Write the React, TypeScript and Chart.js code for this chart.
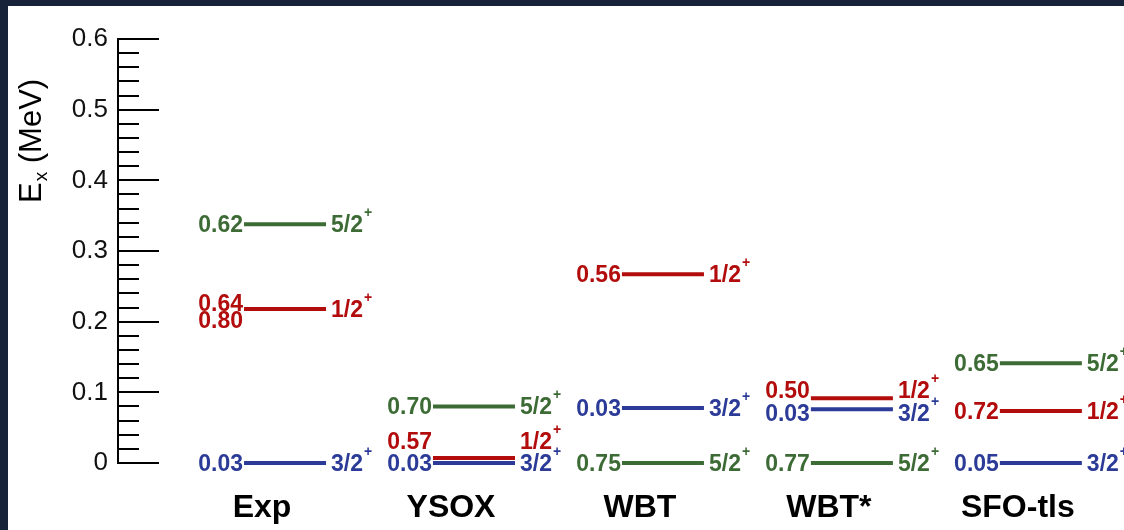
import React, { useEffect, useRef } from "react";
import { Chart, registerables } from "chart.js";

Chart.register(...registerables);

// ---- data ----
const categories = ["Exp", "YSOX", "WBT", "WBT*", "SFO-tls"];

// level energies (MeV) per category
const energies32 = [0.0, 0.0, 0.078, 0.076, 0.0];
const energies12 = [0.218, 0.007, 0.267, 0.0915, 0.0735];
const energies52 = [0.338, 0.08, 0.0, 0.0, 0.141];

// numbers printed left of each level
const values32 = [["0.03"], ["0.03"], ["0.03"], ["0.03"], ["0.05"]];
const values12 = [["0.64", "0.80"], ["0.57"], ["0.56"], ["0.50"], ["0.72"]];
const values52 = [["0.62"], ["0.70"], ["0.75"], ["0.77"], ["0.65"]];

const spinLabels = ["3/2", "1/2", "5/2"];

const yTickMin = 0;
const yTickMax = 0.6;
const yMinorStep = 0.02;

// ---- styles / label placement (px) ----
const COLORS = ["#2b3b97", "#b20c0c", "#3d6b35"];
const shift32 = [[0], [0], [0], [4], [0]];
const shift12 = [[-6, 11], [-17], [0], [-8], [0]];
const shift52 = [[0], [0], [0], [0], [0]];
const spinShift32 = [0, 0, 0, 4, 0];
const spinShift12 = [0, -17, 0, -8, 0];
const spinShift52 = [0, 0, 0, 0, 0];

const HALF = 0.217;
const FONT = "'Liberation Sans', Arial, sans-serif";

const series = [
  { energies: energies32, values: values32, shift: shift32, spinShift: spinShift32, spin: spinLabels[0], color: COLORS[0] },
  { energies: energies12, values: values12, shift: shift12, spinShift: spinShift12, spin: spinLabels[1], color: COLORS[1] },
  { energies: energies52, values: values52, shift: shift52, spinShift: spinShift52, spin: spinLabels[2], color: COLORS[2] },
];

const levelPlugin = {
  id: "levelPlugin",
  afterDatasetsDraw(chart: any) {
    const ctx = chart.ctx;
    const xs = chart.scales.x;
    const ys = chart.scales.y;
    ctx.save();

    // axis line and inward ticks
    const ax = ys.right;
    ctx.strokeStyle = "#000";
    ctx.lineWidth = 2;
    ctx.beginPath();
    ctx.moveTo(ax, ys.getPixelForValue(yTickMax) - 1);
    ctx.lineTo(ax, ys.getPixelForValue(yTickMin) + 1);
    ctx.stroke();
    const n = Math.round((yTickMax - yTickMin) / yMinorStep);
    for (let k = 0; k <= n; k++) {
      const v = yTickMin + k * yMinorStep;
      const major = k % 5 === 0;
      const py = Math.round(ys.getPixelForValue(v));
      ctx.beginPath();
      ctx.moveTo(ax, py);
      ctx.lineTo(ax + (major ? 41 : 21), py);
      ctx.stroke();
    }

    // y-axis title
    ctx.save();
    ctx.translate(33, 197);
    ctx.rotate(-Math.PI / 2);
    ctx.fillStyle = "#000";
    ctx.textBaseline = "alphabetic";
    ctx.textAlign = "left";
    ctx.font = `31px ${FONT}`;
    ctx.fillText("E", 0, 0);
    let w = ctx.measureText("E").width;
    ctx.font = `19px ${FONT}`;
    ctx.fillText("x", w + 1, 6);
    w += ctx.measureText("x").width + 1;
    ctx.font = `31px ${FONT}`;
    ctx.fillText(" (MeV)", w, 0);
    ctx.restore();

    // level labels
    series.forEach((s) => {
      s.energies.forEach((e, i) => {
        const y = ys.getPixelForValue(e);
        const x0 = xs.getPixelForValue(i - HALF);
        const x1 = xs.getPixelForValue(i + HALF);
        ctx.fillStyle = s.color;
        ctx.textBaseline = "alphabetic";
        ctx.font = `bold 23px ${FONT}`;
        ctx.textAlign = "right";
        s.values[i].forEach((txt, j) => {
          ctx.fillText(txt, x0 - 1, y + s.shift[i][j] + 8);
        });
        ctx.textAlign = "left";
        const sy = y + s.spinShift[i];
        ctx.fillText(s.spin, x1 + 5, sy + 8);
        const sw = ctx.measureText(s.spin).width;
        ctx.font = `bold 14px ${FONT}`;
        ctx.fillText("+", x1 + 5 + sw + 1, sy - 7);
      });
    });

    // category labels
    ctx.fillStyle = "#000";
    ctx.font = `bold 32px ${FONT}`;
    ctx.textAlign = "center";
    ctx.textBaseline = "alphabetic";
    categories.forEach((c, i) => {
      ctx.fillText(c, xs.getPixelForValue(i) - 23, 511);
    });

    ctx.restore();
  },
};

export default function App() {
  const ref = useRef<HTMLCanvasElement>(null);
  useEffect(() => {
    document.body.style.margin = "6px 0 0 8px";
    document.body.style.background = "#172339";
    document.body.style.overflow = "hidden";
    const datasets: any[] = [];
    series.forEach((s) => {
      s.energies.forEach((e, i) => {
        datasets.push({
          type: "line",
          label: `${categories[i]} ${s.spin}+`,
          data: [
            { x: i - HALF, y: e },
            { x: i + HALF, y: e },
          ],
          borderColor: s.color,
          backgroundColor: s.color,
          borderWidth: 4,
          borderCapStyle: "butt",
          pointRadius: 0,
          fill: false,
          clip: false,
        });
      });
    });
    const chart = new Chart(ref.current as HTMLCanvasElement, {
      type: "line",
      data: { datasets },
      options: {
        animation: false,
        responsive: true,
        maintainAspectRatio: false,
        layout: { padding: { left: 0, right: 0, top: 33, bottom: 67 } },
        plugins: { legend: { display: false }, tooltip: { enabled: false } },
        scales: {
          x: { type: "linear", min: -0.884, max: 4.44, display: false },
          y: {
            type: "linear",
            min: yTickMin,
            max: yTickMax,
            afterFit: (scale: any) => {
              scale.width = 110;
            },
            grid: { display: false, drawTicks: false },
            border: { display: false },
            ticks: {
              stepSize: yMinorStep,
              autoSkip: false,
              padding: 10,
              color: "#111",
              font: { family: FONT, size: 26 },
              callback: (v: any) => {
                const t = Number(v) * 10;
                if (Math.abs(t - Math.round(t)) > 1e-6) return "";
                const r = Math.round(t) / 10;
                return r === 0 ? "0" : r.toFixed(1);
              },
            },
          },
        },
      },
      plugins: [levelPlugin],
    });
    return () => chart.destroy();
  }, []);
  return (
    <div style={{ width: 1116, height: 524, background: "#fff", position: "relative" }}>
      <canvas ref={ref} />
    </div>
  );
}
